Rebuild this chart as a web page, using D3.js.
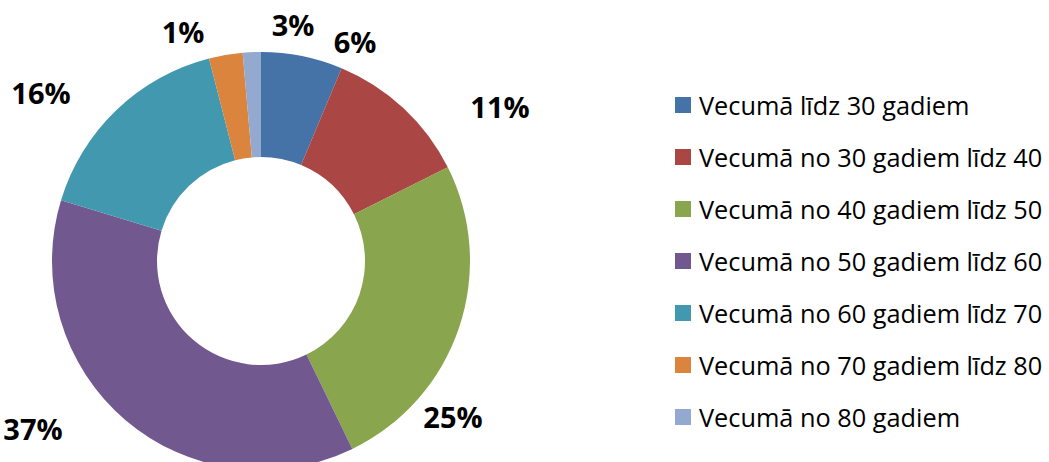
<!DOCTYPE html>
<html><head><meta charset="utf-8">
<script src="https://cdn.jsdelivr.net/npm/d3@7"></script>
<style>
html,body{margin:0;padding:0;background:#fff;overflow:hidden}
svg{display:block}
</style></head>
<body>
<svg id="chart" width="1049" height="462"></svg>
<script>
const categories = [
  "Vecumā līdz 30 gadiem",
  "Vecumā no 30 gadiem līdz 40",
  "Vecumā no 40 gadiem līdz 50",
  "Vecumā no 50 gadiem līdz 60",
  "Vecumā no 60 gadiem līdz 70",
  "Vecumā no 70 gadiem līdz 80",
  "Vecumā no 80 gadiem"
];
const values = [6.3, 11.3, 25.2, 36.9, 16.3, 2.6, 1.4];
const labels = ["6%", "11%", "25%", "37%", "16%", "1%", "3%"];
const colors = ["#4572A7", "#AA4643", "#89A54E", "#71588F", "#4198AF", "#DB843D", "#93A9CF"];

// layout
const cx = 261, cy = 261, rOuter = 209, rInner = 104;
const labelPos = [[355,41],[500,106],[453,416],[33,428],[41,92],[183,31],[293,24]];

const svg = d3.select("#chart");
const pie = d3.pie().value(d => d).sort(null);
const arc = d3.arc().innerRadius(rInner).outerRadius(rOuter);

const g = svg.append("g").attr("transform", `translate(${cx},${cy})`);
g.selectAll("path").data(pie(values)).join("path")
  .attr("d", arc)
  .attr("fill", (d, i) => colors[i]);

svg.selectAll("text.lbl").data(labels).join("text")
  .attr("class", "lbl")
  .attr("x", (d, i) => labelPos[i][0])
  .attr("y", (d, i) => labelPos[i][1])
  .attr("text-anchor", "middle")
  .attr("dominant-baseline", "central")
  .attr("font-family", "Open Sans, sans-serif")
  .attr("font-weight", "bold")
  .attr("font-size", 29)
  .attr("fill", "#000")
  .text(d => d);

const legend = svg.append("g");
const legY = d3.scalePoint().domain(d3.range(categories.length)).range([105, 417]);
const items = legend.selectAll("g").data(categories).join("g")
  .attr("transform", (d, i) => `translate(675,${legY(i)})`);
items.append("rect").attr("x", 0).attr("y", -8).attr("width", 16).attr("height", 16)
  .attr("fill", (d, i) => colors[i]);
items.append("text").attr("x", 24).attr("y", 0)
  .attr("dominant-baseline", "central")
  .attr("font-family", "Open Sans, sans-serif")
  .attr("font-size", 25.3)
  .attr("fill", "#000")
  .text(d => d);
</script>
</body></html>
